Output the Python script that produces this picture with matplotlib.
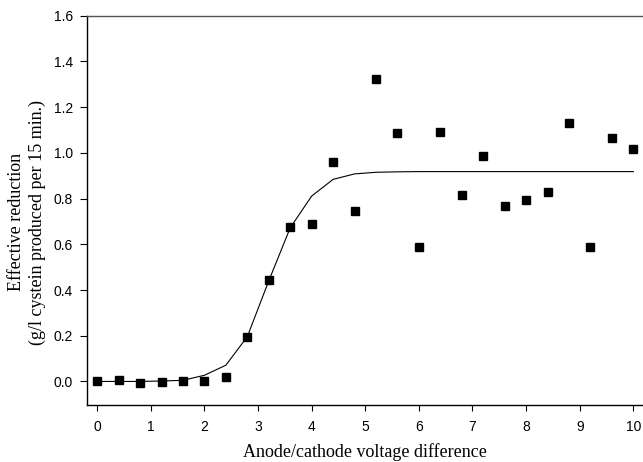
import numpy as np
import matplotlib
matplotlib.use("Agg")
import matplotlib.pyplot as plt

# ============================================================
# DADOS
# ============================================================
voltage = [0.0, 0.4, 0.8, 1.2, 1.6, 2.0, 2.4, 2.8, 3.2, 3.6, 4.0, 4.4, 4.8,
           5.2, 5.6, 6.0, 6.4, 6.8, 7.2, 7.6, 8.0, 8.4, 8.8, 9.2, 9.6, 10.0]
reduction = [0.0, 0.007, -0.005, -0.002, 0.002, 0.0, 0.018, 0.196, 0.444, 0.675,
             0.688, 0.960, 0.747, 1.322, 1.087, 0.587, 1.091, 0.816, 0.985,
             0.769, 0.793, 0.828, 1.132, 0.587, 1.064, 1.018]

fit_x = [0.0, 0.4, 0.8, 1.2, 1.6, 2.0, 2.4, 2.8, 3.2, 3.6, 4.0, 4.4, 4.8,
         5.2, 5.6, 6.0, 7.0, 8.0, 9.0, 10.0]
fit_y = [0.0, 0.0, 0.0, 0.002, 0.005, 0.027, 0.071, 0.196, 0.440, 0.672,
         0.811, 0.884, 0.908, 0.915, 0.917, 0.918, 0.918, 0.918, 0.918, 0.918]

x_ticks = list(range(0, 11))
y_ticks = [0.0, 0.2, 0.4, 0.6, 0.8, 1.0, 1.2, 1.4, 1.6]

# ============================================================
# FIGURA
# ============================================================
fig = plt.figure(figsize=(6.43, 4.62), dpi=100)
ax = fig.add_axes([0.1353, 0.1234, 0.8647, 0.8426])

ax.plot(fit_x, fit_y, color="black", linewidth=0.8)
ax.plot(voltage, reduction, linestyle="none", marker="s", markersize=6,
        color="black")

ax.set_xlim(-0.19, 10.18)
ax.set_ylim(-0.103, 1.6)

ax.set_xticks(x_ticks)
ax.set_yticks(y_ticks)
ax.set_yticklabels([f"{v:.1f}" for v in y_ticks])

tick_font = "Liberation Sans"
for lbl in ax.get_xticklabels() + ax.get_yticklabels():
    lbl.set_fontfamily(tick_font)
    lbl.set_fontsize(10)

ax.tick_params(axis="x", direction="out", length=4.5, width=0.8, pad=6)
ax.tick_params(axis="y", direction="out", length=5, width=0.8, pad=5)

ax.spines["right"].set_visible(False)
for s in ["left", "bottom", "top"]:
    ax.spines[s].set_linewidth(1.0)
ax.spines["top"].set_color("#555555")

ax.set_xlabel("Anode/cathode voltage difference", fontfamily="Liberation Serif",
              fontsize=13, labelpad=7)
ax.set_ylabel("Effective reduction\n(g/l cystein produced per 15 min.)",
              fontfamily="Liberation Serif", fontsize=13, linespacing=1.25)
ax.yaxis.set_label_coords(-0.074, 0.47)

fig.savefig("out.png", dpi=100)
